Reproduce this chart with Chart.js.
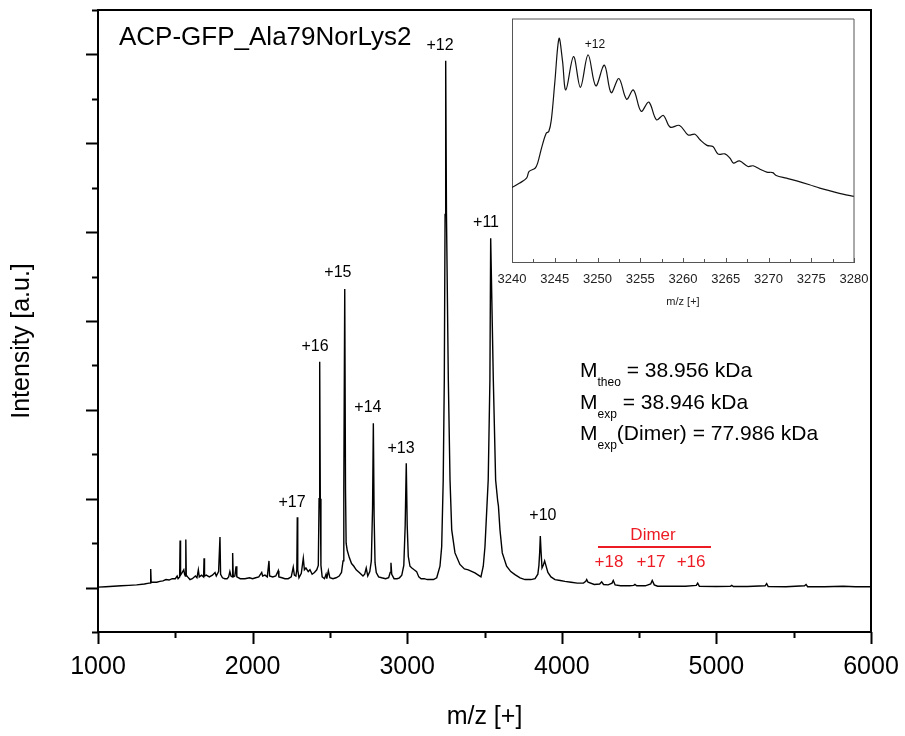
<!DOCTYPE html>
<html lang="en">
<head>
<meta charset="UTF-8">
<title>ACP-GFP_Ala79NorLys2</title>
<script src="https://cdn.jsdelivr.net/npm/chart.js"></script>
<style>
  body { margin: 0; background: #fff; }
  #wrap { position: relative; width: 905px; height: 736px; }
  #main { position: absolute; left: 0; top: 0; }
  #inset { position: absolute; left: 470px; top: 14px; }
</style>
</head>
<body>
<div id="wrap">
  <canvas id="main" width="905" height="736"></canvas>
  <canvas id="inset" width="400" height="300"></canvas>
</div>

<script>
// ---- data: [m/z, intensity (one unit = one major y tick)]
const spectrum = [
  [1000, 0.005], [1050, 0.01], [1100, 0.015], [1150, 0.02], [1200, 0.025], [1250, 0.03],
  [1300, 0.04], [1330, 0.05], [1338, 0.05], [1341, 0.21], [1344, 0.06], [1380, 0.06],
  [1400, 0.07], [1420, 0.075], [1440, 0.09], [1460, 0.085], [1480, 0.1], [1500, 0.1],
  [1512, 0.13], [1518, 0.1], [1528, 0.12], [1531, 0.53], [1534, 0.14], [1545, 0.17],
  [1555, 0.2], [1560, 0.15], [1565, 0.13], [1568, 0.54], [1571, 0.14], [1580, 0.12],
  [1595, 0.09], [1610, 0.1], [1630, 0.13], [1640, 0.11], [1649, 0.2], [1655, 0.12],
  [1670, 0.14], [1683, 0.12], [1686, 0.33], [1689, 0.13], [1700, 0.14], [1720, 0.12],
  [1740, 0.14], [1757, 0.17], [1765, 0.13], [1780, 0.18], [1789, 0.57], [1793, 0.15],
  [1805, 0.11], [1820, 0.1], [1835, 0.1], [1845, 0.12], [1853, 0.18], [1860, 0.13],
  [1868, 0.12], [1871, 0.39], [1875, 0.12], [1885, 0.13], [1893, 0.24], [1898, 0.12],
  [1920, 0.1], [1950, 0.1], [1980, 0.11], [2000, 0.1], [2020, 0.11], [2040, 0.12],
  [2059, 0.17], [2065, 0.13], [2080, 0.14], [2095, 0.12], [2106, 0.3], [2110, 0.13],
  [2130, 0.12], [2150, 0.13], [2166, 0.19], [2170, 0.12], [2190, 0.11], [2209, 0.1],
  [2230, 0.1], [2250, 0.12], [2263, 0.23], [2270, 0.14], [2280, 0.13], [2286, 0.2],
  [2289, 0.79], [2292, 0.2], [2300, 0.11], [2315, 0.16], [2328, 0.33], [2335, 0.2],
  [2345, 0.22], [2360, 0.18], [2371, 0.2], [2385, 0.15], [2400, 0.17], [2415, 0.2],
  [2425, 0.25], [2430, 1.0], [2434, 2.54], [2438, 1.0], [2442, 0.25], [2450, 0.12],
  [2465, 0.1], [2475, 0.15], [2480, 0.1], [2490, 0.19], [2500, 0.11], [2520, 0.1],
  [2540, 0.11], [2560, 0.13], [2575, 0.17], [2585, 0.3], [2590, 1.1], [2596, 3.36],
  [2601, 1.1], [2605, 0.5], [2612, 0.42], [2625, 0.34], [2640, 0.27], [2655, 0.24],
  [2670, 0.2], [2690, 0.17], [2714, 0.13], [2725, 0.15], [2735, 0.22], [2745, 0.13],
  [2758, 0.18], [2768, 0.3], [2776, 0.9], [2781, 1.85], [2786, 0.8], [2792, 0.28],
  [2800, 0.17], [2815, 0.12], [2835, 0.11], [2860, 0.1], [2880, 0.11], [2890, 0.17],
  [2895, 0.28], [2900, 0.15], [2915, 0.1], [2935, 0.1], [2950, 0.11], [2965, 0.14],
  [2978, 0.25], [2987, 0.7], [2994, 1.4], [3000, 0.7], [3007, 0.35], [3018, 0.24],
  [3030, 0.22], [3045, 0.2], [3061, 0.18], [3075, 0.12], [3090, 0.1], [3110, 0.1],
  [3130, 0.09], [3150, 0.09], [3170, 0.09], [3191, 0.11], [3212, 0.24], [3223, 0.46],
  [3233, 1.21], [3240, 2.34], [3245, 4.2], [3249, 5.93], [3254, 4.2], [3266, 2.34],
  [3277, 1.21], [3288, 0.65], [3309, 0.39], [3341, 0.26], [3370, 0.21], [3395, 0.2],
  [3420, 0.18], [3438, 0.165], [3460, 0.14], [3477, 0.12], [3492, 0.24], [3503, 0.46],
  [3524, 1.21], [3535, 2.34], [3540, 3.93], [3557, 2.34], [3572, 1.21], [3585, 0.98],
  [3590, 0.92], [3600, 0.65], [3615, 0.39], [3643, 0.24], [3670, 0.18], [3697, 0.146],
  [3730, 0.11], [3762, 0.09], [3800, 0.09], [3827, 0.1], [3845, 0.15], [3852, 0.25],
  [3857, 0.4], [3861, 0.58], [3866, 0.4], [3872, 0.22], [3880, 0.25], [3889, 0.3],
  [3897, 0.25], [3910, 0.17], [3930, 0.12], [3956, 0.09], [3990, 0.08], [4020, 0.07],
  [4060, 0.06], [4100, 0.05], [4140, 0.05], [4155, 0.07], [4161, 0.09], [4170, 0.06],
  [4210, 0.035], [4245, 0.04], [4258, 0.065], [4270, 0.035], [4300, 0.03], [4325, 0.05],
  [4333, 0.08], [4345, 0.03], [4380, 0.02], [4440, 0.02], [4465, 0.025], [4473, 0.035],
  [4485, 0.02], [4540, 0.02], [4575, 0.04], [4585, 0.08], [4598, 0.03], [4620, 0.015],
  [4700, 0.015], [4800, 0.015], [4870, 0.025], [4879, 0.05], [4890, 0.015], [5000, 0.012],
  [5090, 0.015], [5099, 0.025], [5110, 0.012], [5200, 0.012], [5315, 0.02], [5325, 0.045],
  [5335, 0.012], [5450, 0.01], [5570, 0.02], [5580, 0.035], [5590, 0.01], [5700, 0.01],
  [5820, 0.015], [5900, 0.01], [6000, 0.01]
];

// zoom on the +12 peak (intensity in % of the inset height)
const insetSpectrum = [
  [3240, 30.7], [3240.9, 32.5], [3241.7, 34.5], [3242.0, 37.3], [3242.7, 38.6], [3243.0, 40.7],
  [3243.5, 47.5], [3244.0, 53], [3244.3, 53.7], [3244.6, 58.5], [3245.0, 73.6], [3245.5, 92],
  [3245.9, 83], [3246.3, 70.8], [3247.2, 84.5], [3248.0, 71.9], [3248.9, 85.2], [3249.8, 72.5],
  [3250.8, 81], [3251.6, 69.7], [3252.5, 75.5], [3253.4, 67], [3254.2, 70.8], [3255.1, 62],
  [3256.0, 65.8], [3256.9, 58.5], [3257.7, 60.3], [3258.5, 55.5], [3259.6, 56.2], [3260.6, 52.3],
  [3261.4, 52.6], [3262.0, 50.3], [3262.8, 48], [3263.5, 47.5], [3264.1, 44.4], [3264.9, 44.5],
  [3265.5, 42.7], [3265.9, 40.7], [3266.6, 41.6], [3267.6, 39.3], [3268.2, 39.6], [3269.0, 38.2],
  [3269.8, 37], [3270.5, 36.8], [3270.9, 35.6], [3272.1, 34.5], [3273.3, 33.4], [3274.8, 31.8],
  [3276.0, 30.4], [3277.2, 29.3], [3278.7, 27.9], [3280, 27]
];

const xRange = [1000, 6000];
const xTickStep = 1000;
const insetRange = [3240, 3280];
const insetTickStep = 5;

// charge state labels, anchored in data units (m/z, intensity)
const chargeLabels = ['+17', '+16', '+15', '+14', '+13', '+12', '+11', '+10'];
const chargeLabelMz = [2255, 2404, 2552, 2746, 2960, 3212, 3510, 3878];
const chargeLabelLevel = [0.955, 2.71, 3.55, 2.02, 1.56, 6.10, 4.11, 0.81];

const dimerLabels = ['+18', '+17', '+16'];
const dimerLabelMz = [4305, 4577, 4836];
const dimerLabelLevel = 0.28;
const dimerBar = [4234, 4965];

const massLines = [
  ['theo', ' = 38.956 kDa'],
  ['exp', ' = 38.946 kDa'],
  ['exp', '(Dimer) = 77.986 kDa']
];

const FONT = '"Liberation Sans", Arial, sans-serif';
const RED = '#ed1c24';

// draws outer box (top/right) and the tick marks of both axes
const frameTicks = {
  id: 'frameTicks',
  afterDraw(chart, args, o) {
    const { ctx, chartArea: a, scales: { x, y } } = chart;
    ctx.save();
    ctx.strokeStyle = o.color;
    ctx.lineWidth = o.width;
    ctx.beginPath();
    ctx.moveTo(a.left, a.top);
    ctx.lineTo(a.right, a.top);
    ctx.lineTo(a.right, a.bottom);
    ctx.stroke();

    const dir = o.inward ? -1 : 1;
    ctx.lineWidth = o.tickWidth;
    ctx.beginPath();
    for (let v = x.min; v <= x.max + 1e-9; v += o.xMinor) {
      const px = Math.round(x.getPixelForValue(v)) + 0.5;
      const major = Math.abs(v / o.xMajor - Math.round(v / o.xMajor)) < 1e-6;
      ctx.moveTo(px, a.bottom);
      ctx.lineTo(px, a.bottom + dir * (major ? o.majorLen : o.minorLen));
    }
    if (o.yMinor) {
      for (let v = y.min; v <= y.max + 1e-9; v += o.yMinor) {
        const py = Math.round(y.getPixelForValue(v)) + 0.5;
        const major = Math.abs(v / o.yMajor - Math.round(v / o.yMajor)) < 1e-6;
        ctx.moveTo(a.left, py);
        ctx.lineTo(a.left - dir * (major ? o.majorLen : o.minorLen), py);
      }
    }
    ctx.stroke();
    ctx.restore();
  }
};

function drawMass(ctx, left, base, sub, rest) {
  ctx.font = `21px ${FONT}`;
  ctx.fillText('M', left, base);
  let x = left + ctx.measureText('M').width;
  ctx.font = `12px ${FONT}`;
  ctx.fillText(sub, x, base + 9);
  x += ctx.measureText(sub).width;
  ctx.font = `21px ${FONT}`;
  ctx.fillText(rest, x, base);
}

const annotate = {
  id: 'annotate',
  afterDraw(chart) {
    const { ctx, scales: { x, y } } = chart;
    ctx.save();
    ctx.fillStyle = '#000';

    // sample name
    ctx.font = `26px ${FONT}`;
    ctx.textAlign = 'left';
    ctx.textBaseline = 'alphabetic';
    ctx.fillText('ACP-GFP_Ala79NorLys2', 119, 45);

    // y axis title
    ctx.save();
    ctx.translate(22, 341);
    ctx.rotate(-Math.PI / 2);
    ctx.textAlign = 'center';
    ctx.textBaseline = 'middle';
    ctx.font = `25px ${FONT}`;
    ctx.fillText('Intensity [a.u.]', 0, 0);
    ctx.restore();

    // charge states
    ctx.textAlign = 'center';
    ctx.textBaseline = 'middle';
    ctx.font = `16px ${FONT}`;
    chargeLabels.forEach((t, i) => {
      ctx.fillText(t, x.getPixelForValue(chargeLabelMz[i]), y.getPixelForValue(chargeLabelLevel[i]));
    });

    // dimer group
    ctx.fillStyle = RED;
    ctx.strokeStyle = RED;
    ctx.font = `17px ${FONT}`;
    const barY = Math.round(y.getPixelForValue(0.46));
    ctx.lineWidth = 1.8;
    ctx.beginPath();
    ctx.moveTo(x.getPixelForValue(dimerBar[0]), barY);
    ctx.lineTo(x.getPixelForValue(dimerBar[1]), barY);
    ctx.stroke();
    ctx.fillText('Dimer', x.getPixelForValue(4590), y.getPixelForValue(0.584));
    dimerLabels.forEach((t, i) => {
      ctx.fillText(t, x.getPixelForValue(dimerLabelMz[i]), y.getPixelForValue(dimerLabelLevel));
    });

    // masses
    ctx.fillStyle = '#000';
    ctx.textAlign = 'left';
    ctx.textBaseline = 'alphabetic';
    const bases = [377, 409, 440];
    massLines.forEach((m, i) => drawMass(ctx, 580, bases[i], m[0], m[1]));
    ctx.restore();
  }
};

new Chart(document.getElementById('main'), {
  type: 'line',
  data: {
    datasets: [{
      data: spectrum.map(p => ({ x: p[0], y: p[1] })),
      borderColor: '#000',
      borderWidth: 1.4,
      pointRadius: 0,
      tension: 0,
      fill: false
    }]
  },
  options: {
    responsive: false,
    animation: false,
    layout: { padding: { top: 10, right: 34, left: 0, bottom: 0 } },
    plugins: {
      legend: { display: false },
      tooltip: { enabled: false },
      frameTicks: {
        color: '#000', width: 2, tickWidth: 2, inward: false,
        xMajor: 1000, xMinor: 500, yMajor: 1, yMinor: 0.5, majorLen: 12, minorLen: 6
      }
    },
    scales: {
      x: {
        type: 'linear',
        min: xRange[0],
        max: xRange[1],
        afterFit: s => { s.height = 104; s.paddingLeft = 0; s.paddingRight = 0; },
        ticks: {
          stepSize: xTickStep,
          callback: v => v,
          color: '#000',
          font: { family: FONT, size: 25 },
          padding: 12,
          maxRotation: 0
        },
        grid: { display: false },
        border: { display: true, color: '#000', width: 2 },
        title: {
          display: true,
          text: 'm/z [+]',
          color: '#000',
          font: { family: FONT, size: 25 },
          padding: { top: 0, bottom: 4 }
        }
      },
      y: {
        type: 'linear',
        min: -0.5,
        max: 6.5,
        afterFit: s => { s.width = 98; },
        ticks: { display: false },
        grid: { display: false },
        border: { display: true, color: '#000', width: 2 }
      }
    }
  },
  plugins: [frameTicks, annotate]
});

// ---- inset
const insetText = {
  id: 'insetText',
  afterDraw(chart) {
    const { ctx, scales: { x, y } } = chart;
    ctx.save();
    ctx.fillStyle = '#111';
    ctx.font = `12px ${FONT}`;
    ctx.textAlign = 'center';
    ctx.textBaseline = 'middle';
    ctx.fillText('+12', x.getPixelForValue(3249.7), y.getPixelForValue(89.3));
    ctx.restore();
  }
};

new Chart(document.getElementById('inset'), {
  type: 'line',
  data: {
    datasets: [{
      data: insetSpectrum.map(p => ({ x: p[0], y: p[1] })),
      borderColor: '#111',
      borderWidth: 1.2,
      pointRadius: 0,
      tension: 0.35,
      fill: false
    }]
  },
  options: {
    responsive: false,
    animation: false,
    layout: { padding: { top: 5, right: 16, left: 0, bottom: 0 } },
    plugins: {
      legend: { display: false },
      tooltip: { enabled: false },
      frameTicks: {
        color: '#555', width: 1, tickWidth: 1, inward: true,
        xMajor: 5, xMinor: 2.5, majorLen: 4, minorLen: 3
      }
    },
    scales: {
      x: {
        type: 'linear',
        min: insetRange[0],
        max: insetRange[1],
        afterFit: s => { s.height = 52; s.paddingLeft = 0; s.paddingRight = 0; },
        ticks: {
          stepSize: insetTickStep,
          callback: v => v,
          color: '#222',
          font: { family: FONT, size: 13 },
          padding: 2,
          maxRotation: 0,
          autoSkip: false
        },
        grid: { display: false },
        border: { display: true, color: '#555', width: 1 },
        title: {
          display: true,
          text: 'm/z [+]',
          color: '#222',
          font: { family: FONT, size: 11 },
          padding: { top: 0, bottom: 5 }
        }
      },
      y: {
        type: 'linear',
        min: 0,
        max: 100,
        afterFit: s => { s.width = 42; },
        ticks: { display: false },
        grid: { display: false },
        border: { display: true, color: '#555', width: 1 }
      }
    }
  },
  plugins: [frameTicks, insetText]
});
</script>
</body>
</html>
